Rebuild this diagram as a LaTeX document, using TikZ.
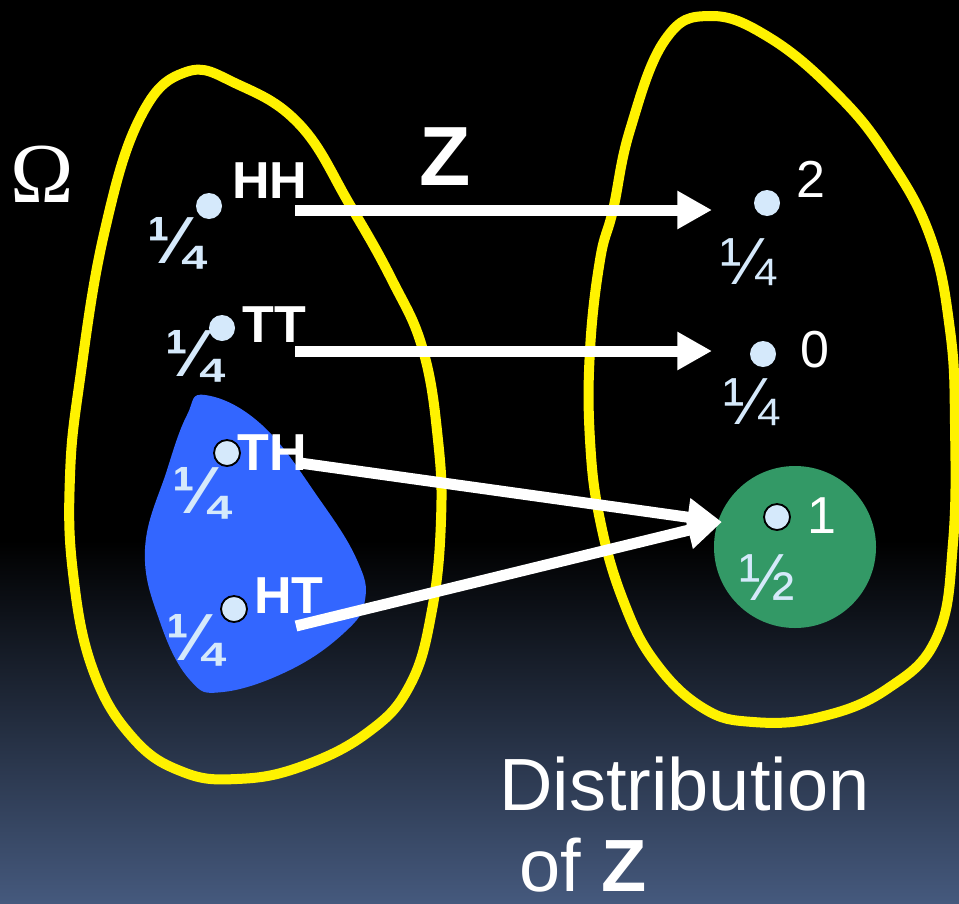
\documentclass[tikz,border=0pt]{standalone}
\usepackage{fontspec}
\setmainfont{Liberation Sans}
\newfontfamily\omegafont{Liberation Serif}
\usetikzlibrary{arrows.meta}

\definecolor{dotblue}{HTML}{D5E9FB}
\definecolor{eventblue}{HTML}{3366FF}
\definecolor{valgreen}{HTML}{339966}
\definecolor{bgbottom}{HTML}{45597D}

\begin{document}
\begin{tikzpicture}[
    x=0.75pt, y=-0.75pt,
    pt/.style={circle, fill=dotblue, minimum size=19.5pt, inner sep=0pt},
    ptb/.style={pt, draw=black, line width=1.4pt},
    outcome/.style={font=\bfseries\fontsize{39}{44}\selectfont, text=white,
                    inner sep=0pt, anchor=base west},
    val/.style={font=\fontsize{39}{44}\selectfont, text=white,
                inner sep=0pt, anchor=base west},
    prob/.style={font=\bfseries\fontsize{50}{54}\selectfont, text=dotblue, inner sep=0pt},
    probr/.style={font=\fontsize{50}{54}\selectfont, text=dotblue, inner sep=0pt},
    caption/.style={font=\fontsize{55.5}{60}\selectfont, text=white, inner sep=0pt,
                    text depth=0pt, anchor=base west},
    bound/.style={draw=yellow, line width=7.5pt},
    map/.style={draw=white, line width=8.25pt, -{Triangle[length=26pt, width=27pt]}},
  ]
  \useasboundingbox (0,0) rectangle (959,903);
  % background
  \fill[black] (0,0) rectangle (959,541);
  \shade[top color=black, bottom color=bgbottom] (0,540) rectangle (959,903);

  % sample space and value set
  \draw[bound] plot[smooth cycle, tension=0.7] coordinates {
    (186,72) (237,84) (300,125) (350,205) (392,280) (423,350) (438,440)
    (441,520) (432,610) (410,685) (367,733) (300,767) (237,779) (183,772)
    (133,738) (93,670) (73,573) (70,476) (80,379) (104,234) (140,118)};
  \draw[bound] plot[smooth cycle, tension=0.7] coordinates {
    (710,16) (770,38) (837,94) (887,156) (930,236) (950,330) (955,425)
    (953,543) (937,637) (887,689) (820,717) (753,722) (703,708) (655,662)
    (623,600) (600,520) (590,440) (590,350) (600,260) (613,210) (630,130)
    (665,40)};
  \fill[eventblue] plot[smooth cycle, tension=0.7] coordinates {
    (205,395) (262,425) (320,500) (357,560) (365,600) (345,632) (290,670)
    (223,692) (190,680) (160,622) (145,549) (167,470) (187,415)};
  \fill[valgreen] (795,547) circle[radius=81];

  \node[font=\omegafont\fontsize{64}{70}\selectfont, text=white, inner sep=0pt,
        anchor=base west] (omega) at (10,202) {Ω};
  \node[font=\bfseries\fontsize{63}{70}\selectfont, text=white, inner sep=0pt,
        anchor=base west] (zname) at (419,185) {Z};

  % outcomes
  \node[pt]  (hh) at (209,206) {};
  \node[pt]  (tt) at (222,328) {};
  \node[ptb] (th) at (227,453) {};
  \node[ptb] (ht) at (234,609) {};
  \node[outcome] (lhh) at (232,198) {HH};
  \node[outcome] (ltt) at (242,342) {TT};
  \node[outcome] (lth) at (237,470) {TH};
  \node[outcome] (lht) at (254,613) {HT};
  \node[prob] (phh) at (175,243) {¼};
  \node[prob] (ptt) at (193,356) {¼};
  \node[prob] (pth) at (200,493) {¼};
  \node[prob] (pht) at (194,640) {¼};

  % values of Z
  \node[pt]  (v2) at (767,203) {};
  \node[pt]  (v0) at (763,354) {};
  \node[ptb] (v1) at (777,517) {};
  \node[val] (lv2) at (796,197) {2};
  \node[val] (lv0) at (800,367) {0};
  \node[val] (lv1) at (807,533) {1};
  \node[probr] (pv2) at (748,262) {¼};
  \node[probr] (pv0) at (751,402) {¼};
  \node[probr] (pv1) at (767,578) {½};

  \coordinate (hhout) at (295,210);
  \coordinate (ttout) at (295,351);
  \coordinate (thout) at (300,463);
  \coordinate (htout) at (296,626);
  \coordinate (v2in) at (712,210);
  \coordinate (v0in) at (712,351);
  \coordinate (v1in) at (722,522);
  \draw[map] (hhout) -- (v2in);
  \draw[map] (ttout) -- (v0in);
  \draw[map] (thout) -- (v1in);
  \draw[map] (htout) -- (v1in);

  \node[caption] (dist) at (499,810) {Distribution};
  \node[caption] (distof) at (519,891) {of \textbf{Z}};
\end{tikzpicture}
\end{document}
